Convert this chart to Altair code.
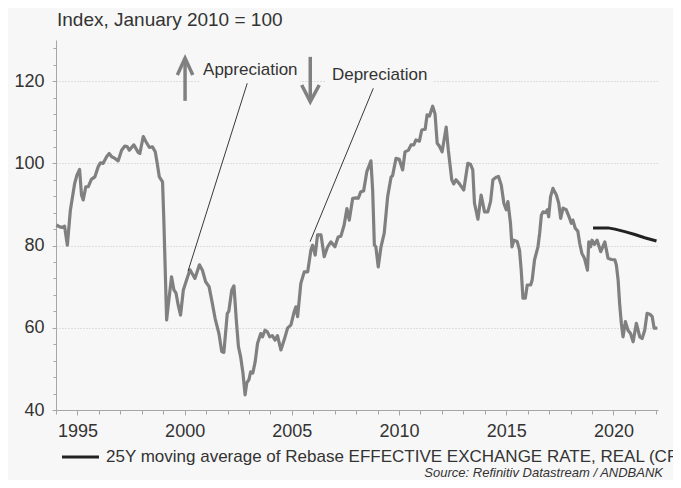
import altair as alt
import pandas as pd

# ---------------- data ----------------
years = [1994.02, 1994.15, 1994.28, 1994.40, 1994.53, 1994.67, 1994.87, 1994.98, 1995.10, 1995.19,
         1995.27, 1995.39, 1995.50, 1995.65, 1995.81, 1995.97, 1996.07, 1996.20, 1996.36, 1996.48,
         1996.60, 1996.75, 1996.90, 1997.06, 1997.21, 1997.32, 1997.42, 1997.63, 1997.84, 1997.91,
         1998.07, 1998.19, 1998.35, 1998.50, 1998.63, 1998.72, 1998.82, 1998.97, 1999.03, 1999.16,
         1999.23, 1999.39, 1999.50, 1999.60, 1999.70, 1999.81, 1999.94, 2000.09, 2000.25, 2000.48,
         2000.69, 2000.83, 2000.98, 2001.14, 2001.29, 2001.42, 2001.60, 2001.73, 2001.83, 2001.99,
         2002.06, 2002.20, 2002.30, 2002.42, 2002.51, 2002.61, 2002.72, 2002.82, 2002.90, 2003.00,
         2003.08, 2003.18, 2003.29, 2003.40, 2003.55, 2003.63, 2003.75, 2003.86, 2003.97, 2004.09,
         2004.22, 2004.33, 2004.49, 2004.64, 2004.80, 2004.96, 2005.11, 2005.19, 2005.27, 2005.42,
         2005.58, 2005.74, 2005.89, 2005.97, 2006.09, 2006.20, 2006.36, 2006.51, 2006.67, 2006.82,
         2007.01, 2007.16, 2007.29, 2007.44, 2007.57, 2007.68, 2007.84, 2008.00, 2008.10, 2008.22,
         2008.35, 2008.50, 2008.69, 2008.77, 2008.85, 2008.92, 2009.03, 2009.16, 2009.31, 2009.47,
         2009.63, 2009.70, 2009.86, 2010.01, 2010.17, 2010.28, 2010.44, 2010.56, 2010.69, 2010.79,
         2010.95, 2011.06, 2011.22, 2011.31, 2011.42, 2011.57, 2011.68, 2011.78, 2011.88, 2012.01,
         2012.20, 2012.30, 2012.46, 2012.55, 2012.66, 2012.82, 2013.02, 2013.21, 2013.33, 2013.44,
         2013.52, 2013.68, 2013.83, 2013.99, 2014.14, 2014.27, 2014.38, 2014.53, 2014.64, 2014.77,
         2014.89, 2015.00, 2015.08, 2015.20, 2015.27, 2015.36, 2015.51, 2015.62, 2015.70, 2015.78,
         2015.89, 2015.98, 2016.14, 2016.21, 2016.32, 2016.48, 2016.56, 2016.64, 2016.72, 2016.83,
         2016.92, 2016.98, 2017.07, 2017.18, 2017.34, 2017.45, 2017.54, 2017.65, 2017.80, 2017.96,
         2018.04, 2018.11, 2018.22, 2018.34, 2018.43, 2018.53, 2018.65, 2018.79, 2018.85, 2018.94,
         2019.00, 2019.12, 2019.24, 2019.41, 2019.60, 2019.75, 2019.91, 2020.07, 2020.14, 2020.22,
         2020.29, 2020.37, 2020.45, 2020.56, 2020.68, 2020.80, 2020.92, 2021.07, 2021.23, 2021.34,
         2021.46, 2021.57, 2021.70, 2021.81, 2021.90, 2022.05]
values = [85.0, 84.6, 84.4, 84.7, 80.1, 88.6, 95.1, 97.2, 98.5, 92.3,
          91.1, 94.3, 94.3, 96.1, 96.7, 99.2, 100.1, 100.0, 101.6, 102.4,
          101.6, 101.2, 100.6, 103.2, 104.2, 104.1, 103.2, 104.5, 102.6, 102.4,
          106.5, 105.3, 103.9, 104.0, 102.8, 100.0, 96.7, 95.5, 86.2, 61.9,
          65.2, 72.4, 69.2, 68.4, 65.5, 63.1, 69.2, 71.6, 74.1, 72.0,
          75.3, 74.0, 71.2, 70.0, 66.0, 62.3, 58.6, 54.2, 54.0, 63.5,
          64.0, 69.2, 70.2, 61.2, 55.4, 53.0, 49.0, 43.7, 46.6, 47.4,
          49.3, 49.0, 51.7, 56.2, 58.6, 57.8, 59.4, 59.0, 57.8, 58.1,
          57.0, 58.1, 54.6, 57.0, 59.9, 60.7, 63.9, 65.1, 62.7, 70.8,
          73.6, 73.6, 78.9, 80.1, 77.7, 82.6, 82.6, 77.3, 79.7, 80.9,
          79.7, 82.1, 82.3, 85.0, 89.0, 86.2, 91.5, 91.6, 91.5, 93.1,
          93.3, 98.0, 100.6, 93.5, 80.1, 79.7, 74.8, 79.7, 83.0, 91.9,
          96.7, 97.0, 101.2, 101.0, 98.4, 102.8, 103.2, 104.5, 104.5, 105.7,
          105.4, 108.1, 108.3, 111.8, 111.5, 113.9, 112.0, 104.9, 104.2, 102.8,
          108.8, 103.2, 96.0, 95.0, 96.0, 95.0, 93.5, 100.0, 99.8, 98.4,
          90.3, 86.4, 92.3, 88.2, 88.2, 90.7, 96.0, 96.6, 96.8, 94.7,
          90.3, 88.7, 90.7, 85.4, 79.7, 81.3, 81.0, 78.9, 74.0, 67.2,
          67.2, 70.4, 70.4, 71.6, 76.5, 79.7, 83.0, 87.4, 88.2, 88.0,
          88.7, 87.0, 91.9, 93.9, 92.3, 90.3, 86.6, 89.1, 88.7, 86.6,
          85.4, 86.2, 84.2, 83.5, 80.5, 78.1, 76.9, 74.0, 80.9, 79.7,
          81.3, 80.3, 81.3, 78.5, 80.9, 76.9, 76.6, 76.5, 75.2, 71.6,
          65.9, 61.1, 57.8, 61.5, 59.4, 58.6, 56.6, 61.1, 57.8, 57.4,
          59.4, 63.5, 63.3, 62.7, 59.9, 59.9]

ma_years = [2019.05, 2019.75, 2020.07, 2020.53, 2021.00, 2021.46, 2022.01]
ma_values = [84.3, 84.3, 84.0, 83.4, 82.7, 81.9, 81.1]

# x / y tick positions
major_x = [1995, 2000, 2005, 2010, 2015, 2020]
minor_x = list(range(1994, 2023))
major_y = [40, 60, 80, 100, 120]
minor_y = list(range(40, 132, 4))

# annotations (data coordinates)
ann_text = ["Appreciation", "Depreciation"]
ann_x = [2000.86, 2006.87]
ann_y = [122.7, 121.5]
box_x1 = [2000.72, 2006.59]
box_x2 = [2005.38, 2011.58]
box_y1 = [118.8, 118.8]
box_y2 = [124.6, 124.6]
lead_x1 = [2002.92, 2008.80]
lead_y1 = [119.47, 118.25]
lead_x2 = [2000.16, 2005.85]
lead_y2 = [73.8, 80.94]
arrow_part = ["up_shaft", "up_shaft", "up_head", "up_head", "up_head",
              "dn_shaft", "dn_shaft", "dn_head", "dn_head", "dn_head"]
arrow_x = [2000.02, 2000.02, 1999.66, 2000.02, 2000.38,
           2005.86, 2005.86, 2005.46, 2005.86, 2006.28]
arrow_y = [115.2, 125.6, 121.5, 125.6, 121.5,
           125.9, 115.0, 119.05, 115.0, 119.05]
arrow_ord = [0, 1, 0, 1, 2, 0, 1, 0, 1, 2]

subtitle = ["Index, January 2010 = 100"]
legend_label = ["25Y moving average of Rebase EFFECTIVE EXCHANGE RATE, REAL (CPI)"]
source = ["Source: Refinitiv Datastream / ANDBANK"]

# ---------------- styling ----------------
BG = "#f7f7f7"
GRAY = "#808080"
DARK = "#222222"
TXT = "#333333"
FONT = "Liberation Sans"
AX = "#a6a6a6"

main_df = pd.DataFrame({"year": years, "value": values})
ma_df = pd.DataFrame({"year": ma_years, "value": ma_values})
ann_df = pd.DataFrame({"t": ann_text, "x": ann_x, "y": ann_y})
box_df = pd.DataFrame({"x1": box_x1, "x2": box_x2, "y1": box_y1, "y2": box_y2})
lead_df = pd.DataFrame({"x1": lead_x1, "y1": lead_y1, "x2": lead_x2, "y2": lead_y2})
arrow_df = pd.DataFrame({"part": arrow_part, "x": arrow_x, "y": arrow_y, "o": arrow_ord})

xs = alt.Scale(domain=[1994.0, 2022.08], nice=False, zero=False)
ys = alt.Scale(domain=[40, 130], nice=False, zero=False)

main = alt.Chart(main_df).mark_line(color=GRAY, strokeWidth=3.2, strokeJoin="round").encode(
    x=alt.X("year:Q", scale=xs, title=None,
            axis=alt.Axis(orient="bottom", values=major_x, format="d", grid=False, tickSize=5,
                          labelPadding=7, labelFontSize=18, labelColor=TXT, labelFont=FONT,
                          domainColor=AX, tickColor=AX, labelOverlap=False, labelFlush=False)),
    y=alt.Y("value:Q", scale=ys, title=None,
            axis=alt.Axis(orient="left", values=major_y, grid=True, gridDash=[1, 2],
                          gridColor="#c4c4c4", tickSize=4, labelPadding=8, labelFontSize=18,
                          labelColor=TXT, labelFont=FONT, domainColor=AX, tickColor=AX,
                          labelOverlap=False)),
)

ma = alt.Chart(ma_df).mark_line(color=DARK, strokeWidth=3).encode(
    x=alt.X("year:Q", scale=xs, title=None,
            axis=alt.Axis(orient="bottom", values=minor_x, labels=False, domain=False,
                          grid=False, tickSize=4, tickColor=AX)),
    y=alt.Y("value:Q", scale=ys, title=None,
            axis=alt.Axis(orient="left", values=minor_y, labels=False, domain=False,
                          grid=False, tickSize=3, tickColor=AX)),
)

boxes = alt.Chart(box_df).mark_rect(fill=BG).encode(
    x=alt.X("x1:Q", scale=xs, axis=None), x2="x2:Q",
    y=alt.Y("y1:Q", scale=ys, axis=None), y2="y2:Q",
)

leads = alt.Chart(lead_df).mark_rule(color=DARK, strokeWidth=0.9).encode(
    x=alt.X("x1:Q", scale=xs, axis=None), x2="x2:Q",
    y=alt.Y("y1:Q", scale=ys, axis=None), y2="y2:Q",
)

arrows = alt.Chart(arrow_df).mark_line(color=GRAY, strokeWidth=3.5, strokeJoin="miter").encode(
    x=alt.X("x:Q", scale=xs, axis=None),
    y=alt.Y("y:Q", scale=ys, axis=None),
    detail="part:N",
    order="o:Q",
)

ann = alt.Chart(ann_df).mark_text(align="left", baseline="middle", font=FONT, fontSize=17,
                                  color=TXT).encode(
    x=alt.X("x:Q", scale=xs, axis=None),
    y=alt.Y("y:Q", scale=ys, axis=None),
    text="t:N",
)

sub = alt.Chart(pd.DataFrame({"t": subtitle})).mark_text(
    align="left", baseline="middle", font=FONT, fontSize=19, color=TXT).encode(
    x=alt.value(1), y=alt.value(-20), text="t:N")

leg_line = alt.Chart(pd.DataFrame({"t": legend_label})).mark_rule(color=DARK, strokeWidth=3).encode(
    x=alt.value(6), x2=alt.value(43), y=alt.value(417))

leg_text = alt.Chart(pd.DataFrame({"t": legend_label})).mark_text(
    align="left", baseline="middle", font=FONT, fontSize=17, color=TXT).encode(
    x=alt.value(50), y=alt.value(417), text="t:N")

src = alt.Chart(pd.DataFrame({"t": source})).mark_text(
    align="right", baseline="middle", font=FONT, fontSize=13, fontStyle="italic", color=TXT).encode(
    x=alt.value(607), y=alt.value(433), text="t:N")

chart = alt.layer(
    main, ma, boxes, leads, arrows, ann, sub, leg_line, leg_text, src
).resolve_axis(x="independent", y="independent").properties(
    width=602, height=370,
    padding={"left": 48, "top": 32, "right": 15, "bottom": 70},
    autosize=alt.AutoSizeParams(type="none"),
    background=BG,
).configure_view(stroke=None, fill=BG)

chart.save("out.html", embed_options={"renderer": "svg", "actions": False})
